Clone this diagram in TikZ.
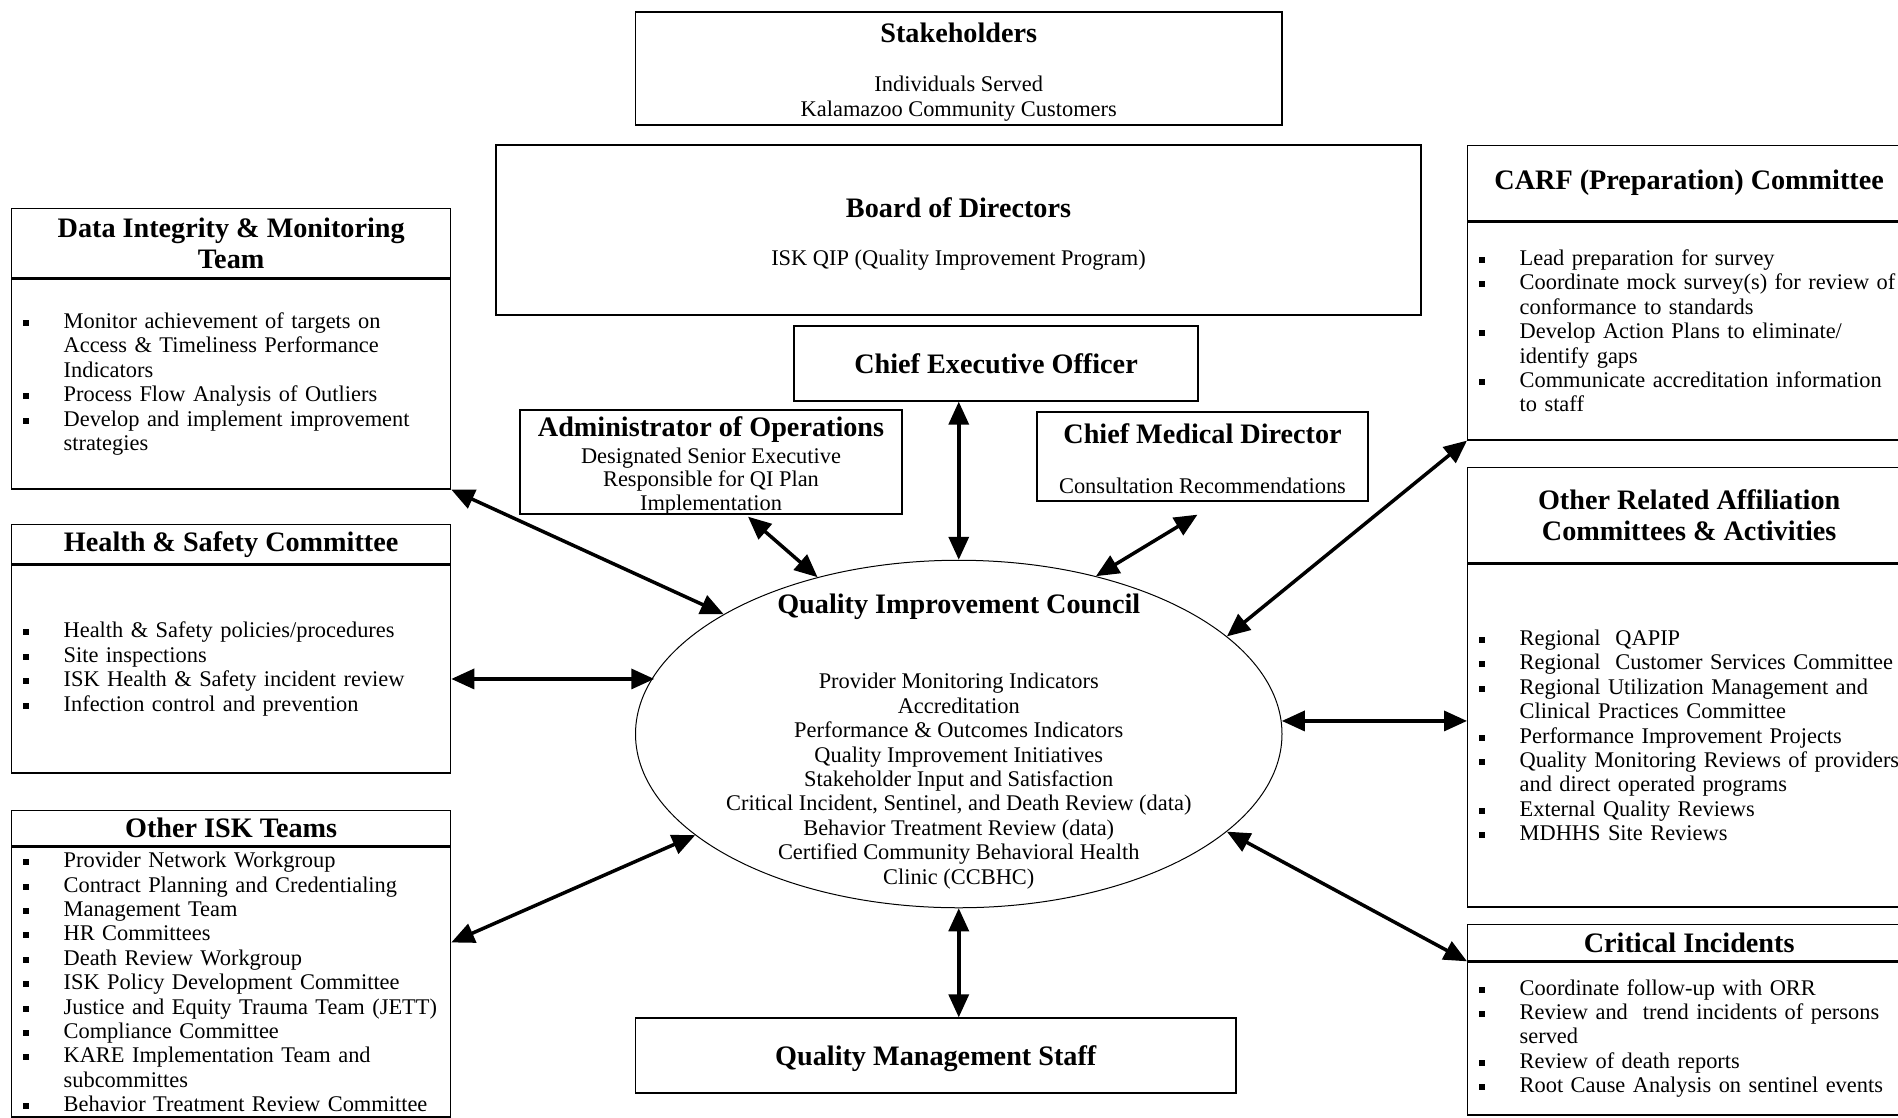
\documentclass[tikz,border=0pt]{standalone}
\usepackage{fontspec}
\setmainfont{Liberation Serif}
\usetikzlibrary{arrows.meta,shapes.geometric}
\newcommand{\itm}[1]{\makebox[41pt][l]{\rule[2.5pt]{6pt}{6pt}}\mbox{#1}}
\newcommand{\cnt}[1]{\hspace*{41pt}\mbox{#1}}

\begin{document}
\begin{tikzpicture}[x=1pt,y=-1pt,
  boxed/.style={draw,line width=1.3pt,inner sep=0pt},
  ttl/.style={font=\fontsize{28.2}{31}\selectfont\bfseries,align=center},
  txt/.style={font=\fontsize{22.4}{24.4}\selectfont,align=center},
  headbox/.style={boxed,ttl,anchor=north west},
  listbox/.style={boxed,font=\fontsize{22.4}{24.4}\selectfont,align=left,inner xsep=11pt,anchor=north west},
  arr/.style={{Triangle[length=23pt,width=20pt]}-{Triangle[length=23pt,width=20pt]},line width=3.5pt}]
\useasboundingbox (0,0) rectangle (1898,1117);

\node[boxed,minimum width=646.5pt,minimum height=113pt] (stk) at (958.75,68.5) {};
\node[ttl] (stkT) at (958.75,33) {Stakeholders};
\node[txt] (stkB) at (958.75,98.5) {Individuals Served\\Kalamazoo Community Customers};

\node[boxed,minimum width=925pt,minimum height=170pt] (brd) at (958.5,230) {};
\node[ttl] (brdT) at (958.5,207.5) {Board of Directors};
\node[txt] (brdB) at (958.5,260) {ISK QIP (Quality Improvement Program)};

\node[boxed,ttl,minimum width=404pt,minimum height=75pt] (ceo) at (996,363.5) {Chief Executive Officer};

\node[boxed,minimum width=382pt,minimum height=104pt] (adm) at (711,462) {};
\node[ttl] (admT) at (711,429.5) {Administrator of Operations};
\node[txt,font=\fontsize{22.4}{23.5}\selectfont] (admB) at (711,481.5) {Designated Senior Executive\\Responsible for QI Plan\\Implementation};

\node[boxed,minimum width=331pt,minimum height=89pt] (cmd) at (1202.5,456.5) {};
\node[ttl] (cmdT) at (1202.5,434) {Chief Medical Director};
\node[txt] (cmdB) at (1202.5,486) {Consultation Recommendations};

\node[draw,ellipse,line width=1pt,minimum width=646.5pt,minimum height=347.5pt,inner sep=0pt] (qic) at (958.75,734) {};
\node[ttl] (qicT) at (958.75,606.5) {Quality Improvement Council};
\node[txt] (qicB) at (958.75,781) {Provider Monitoring Indicators\\Accreditation\\Performance \& Outcomes Indicators\\Quality Improvement Initiatives\\Stakeholder Input and Satisfaction\\Critical Incident, Sentinel, and Death Review (data)\\Behavior Treatment Review (data)\\Certified Community Behavioral Health\\Clinic (CCBHC)};

\node[boxed,ttl,text depth=0pt,minimum width=600.5pt,minimum height=75pt] (qms) at (935.75,1055.5) {Quality Management Staff};

\node[headbox,minimum width=439pt,minimum height=69pt] (dimT) at (11,208) {Data Integrity \& Monitoring\\Team};
\node[listbox,text width=417pt,minimum height=210pt] (dimB) at (dimT.south west) {\itm{Monitor achievement of targets on}\\\cnt{Access \& Timeliness Performance}\\\cnt{Indicators}\\\itm{Process Flow Analysis of Outliers}\\\itm{Develop and implement improvement}\\\cnt{strategies}};

\node[headbox,minimum width=439pt,minimum height=39pt] (hsT) at (11,524) {Health \& Safety Committee};
\node[listbox,text width=417pt,minimum height=208pt] (hsB) at (hsT.south west) {\itm{Health \& Safety policies/procedures}\\\itm{Site inspections}\\\itm{ISK Health \& Safety incident review}\\\itm{Infection control and prevention}};

\node[headbox,minimum width=439pt,minimum height=35pt] (iskT) at (11,810) {Other ISK Teams};
\node[listbox,text width=417pt,minimum height=270pt] (iskB) at (iskT.south west) {\itm{Provider Network Workgroup}\\\itm{Contract Planning and Credentialing}\\\itm{Management Team}\\\itm{HR Committees}\\\itm{Death Review Workgroup}\\\itm{ISK Policy Development Committee}\\\itm{Justice and Equity Trauma Team (JETT)}\\\itm{Compliance Committee}\\\itm{KARE Implementation Team and}\\\cnt{subcommittes}\\\itm{Behavior Treatment Review Committee}};

\node[headbox,minimum width=443pt,minimum height=75pt] (carfT) at (1467,145) {CARF (Preparation) Committee};
\node[listbox,text width=421pt,minimum height=218pt] (carfB) at (carfT.south west) {\itm{Lead preparation for survey}\\\itm{Coordinate mock survey(s) for review of}\\\cnt{conformance to standards}\\\itm{Develop Action Plans to eliminate/}\\\cnt{identify gaps}\\\itm{Communicate accreditation information}\\\cnt{to staff}};

\node[headbox,minimum width=443pt,minimum height=95pt] (orT) at (1467,467) {Other Related Affiliation\\Committees \& Activities};
\node[listbox,text width=421pt,minimum height=343pt] (orB) at (orT.south west) {\itm{Regional\ \ QAPIP}\\\itm{Regional\ \ Customer Services Committee}\\\itm{Regional Utilization Management and}\\\cnt{Clinical Practices Committee}\\\itm{Performance Improvement Projects}\\\itm{Quality Monitoring Reviews of providers}\\\cnt{and direct operated programs}\\\itm{External Quality Reviews}\\\itm{MDHHS Site Reviews}};

\node[headbox,minimum width=443pt,minimum height=36pt] (ciT) at (1467,924) {Critical Incidents};
\node[listbox,text width=421pt,minimum height=153pt] (ciB) at (ciT.south west) {\itm{Coordinate follow-up with ORR}\\\itm{Review and\ \ trend incidents of persons}\\\cnt{served}\\\itm{Review of death reports}\\\itm{Root Cause Analysis on sentinel events}};

\draw[arr] (dimB.south east) -- (qic.153.6);
\draw[arr] ([yshift=-10pt]hsB.east) -- ([yshift=-10pt]hsB.east -| qic.169.2);
\draw[arr] ([yshift=39.5pt]iskB.east) -- (qic.201);
\draw[arr] ([xshift=37pt,yshift=-2pt]adm.south) -- (qic.132.3);
\draw[arr] (qic.north |- ceo.south) -- (qic.north);
\draw[arr] ([xshift=-5pt,yshift=-13pt]cmd.south) -- (qic.49.4);
\draw[arr] (carfB.south west) -- (qic.20);
\draw[arr] ([yshift=14.5pt]orB.west) -- ([yshift=14.5pt]orB.west -| qic.2.7);
\draw[arr] (ciT.south west) -- (qic.340.7);
\draw[arr] (qic.south) -- (qic.south |- qms.north);
\end{tikzpicture}
\end{document}
